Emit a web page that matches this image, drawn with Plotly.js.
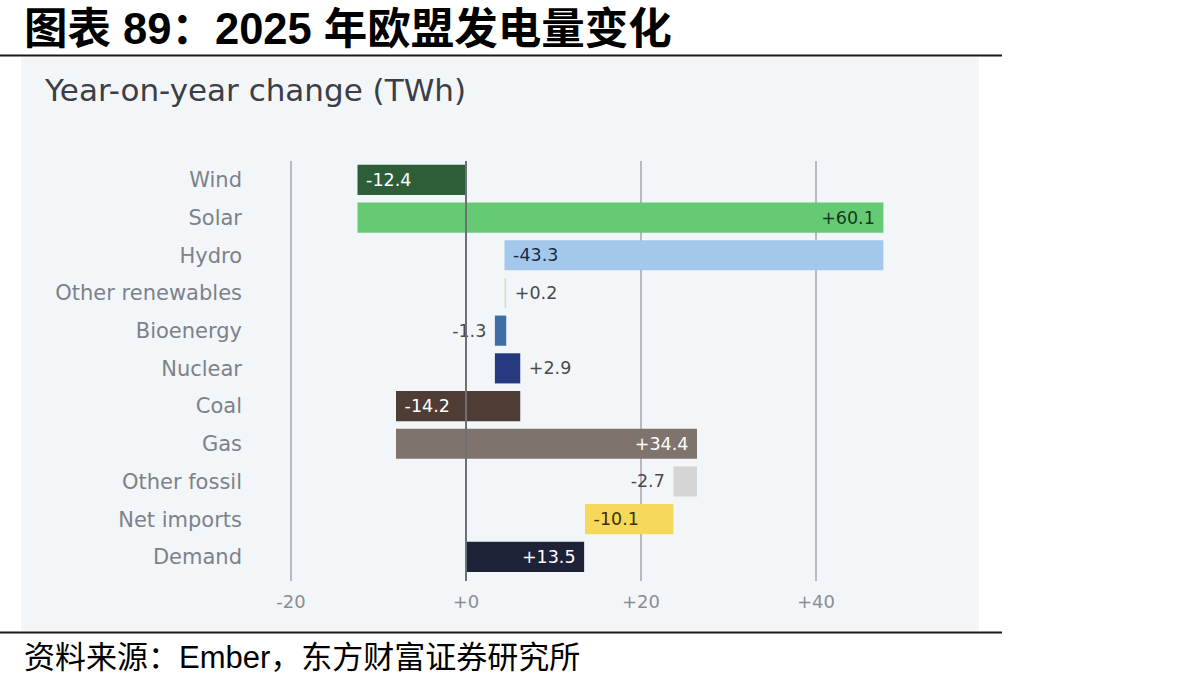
<!DOCTYPE html>
<html><head><meta charset="utf-8">
<script src="https://cdn.plot.ly/plotly-3.0.1.min.js"></script>
<style>html,body{margin:0;padding:0;background:#fff}#chart{width:1192px;height:686px}</style>
</head><body><div id="chart"></div>
<script>
// ---- data ----
const categories = ["Wind","Solar","Hydro","Other renewables","Bioenergy","Nuclear","Coal","Gas","Other fossil","Net imports","Demand"];
const changes = [-12.4, 60.1, -43.3, 0.2, -1.3, 2.9, -14.2, 34.4, -2.7, -10.1, 13.5];
const isTotal = [false,false,false,false,false,false,false,false,false,false,true];
const tickValues = [-20, 0, 20, 40];
const tickLabels = ["-20", "+0", "+20", "+40"];
const headerText = "<b>图表 89：2025 年欧盟发电量变化</b>";
const subtitleText = "Year-on-year change (TWh)";
const sourceText = "资料来源：Ember，东方财富证券研究所";

// ---- styles ----
const barColors = ["#2e5e37","#66c974","#a4c8ec","#cfe0cb","#3e6ea6","#27397f","#4e3d34","#7f736e","#d5d5d5","#f6d95b","#1d2237"];
const insideTextColors = ["#ffffff","#143a1d","#1c2a45","#333333","#ffffff","#ffffff","#ffffff","#ffffff","#333333","#3d3000","#ffffff"];

// waterfall bases from running total
const bases = [];
let running = 0;
changes.forEach((v, i) => {
  if (isTotal[i]) { bases.push(0); }
  else { bases.push(running); running += v; }
});
const NB = "\u00a0";
const labels = changes.map(v => NB + (v > 0 ? "+" : "") + v.toFixed(1) + NB);

const W = 1192, H = 686;
const M = {l: 255, r: 232, t: 161, b: 105};
const pw = W - M.l - M.r, ph = H - M.t - M.b;
const px = x => (x - M.l) / pw;
const py = y => 1 - (y - M.t) / ph;
const FONT = "DejaVu Sans, sans-serif";

const trace = {
  type: "bar", orientation: "h",
  y: categories, x: changes, base: bases,
  width: 0.8,
  marker: {color: barColors, line: {width: 0}},
  text: labels,
  textposition: "auto",
  insidetextanchor: "end",
  constraintext: "none",
  textangle: 0,
  insidetextfont: {family: FONT, size: 17.5, color: insideTextColors},
  outsidetextfont: {family: FONT, size: 17.5, color: "#4a4a4a"},
  cliponaxis: false,
  hoverinfo: "skip"
};

const layout = {
  width: W, height: H,
  margin: M,
  paper_bgcolor: "#ffffff",
  plot_bgcolor: "rgba(0,0,0,0)",
  showlegend: false,
  title: {
    text: subtitleText, xref: "container", yref: "container",
    x: 45 / W, xanchor: "left", y: 1 - 90 / H, yanchor: "middle",
    font: {family: FONT, size: 31, color: "#3b3e46"}
  },
  xaxis: {
    range: [(M.l - 466) / 8.75, (W - M.r - 466) / 8.75],
    tickmode: "array", tickvals: tickValues, ticktext: tickLabels,
    showgrid: true, gridcolor: "#b6b9be", gridwidth: 2,
    zeroline: false, showline: false, ticks: "",
    ticklabelstandoff: 8,
    tickfont: {family: FONT, size: 18, color: "#8a8d94"},
    fixedrange: true
  },
  yaxis: {
    type: "category", categoryorder: "array", categoryarray: categories,
    range: [10.64, -0.5],
    showgrid: false, zeroline: false, showline: false, ticks: "",
    ticklabelstandoff: 12,
    tickfont: {family: FONT, size: 21, color: "#7d818b"},
    fixedrange: true
  },
  shapes: [
    {type: "rect", xref: "paper", yref: "paper", x0: px(21), x1: px(979), y0: py(631), y1: py(57),
     fillcolor: "#f3f6f9", line: {width: 0}, layer: "below"},
    {type: "line", xref: "paper", yref: "paper", x0: px(0), x1: px(1002), y0: py(55.5), y1: py(55.5),
     line: {color: "#1a1a1a", width: 2}},
    {type: "line", xref: "paper", yref: "paper", x0: px(0), x1: px(1002), y0: py(632.5), y1: py(632.5),
     line: {color: "#1a1a1a", width: 2}},
    {type: "line", xref: "x", yref: "paper", x0: 0, x1: 0, y0: 0, y1: 1,
     line: {color: "#6d7077", width: 2}, layer: "above"}
  ],
  annotations: [
    {text: headerText, xref: "paper", yref: "paper", x: px(22), y: py(29),
     xanchor: "left", yanchor: "middle", showarrow: false,
     font: {family: "Liberation Sans, Noto Sans CJK SC, sans-serif", size: 43.5, color: "#000"}},
    {text: sourceText, xref: "paper", yref: "paper", x: px(22), y: py(657),
     xanchor: "left", yanchor: "middle", showarrow: false,
     font: {family: "Liberation Sans, Noto Sans CJK SC, sans-serif", size: 31, color: "#000"}}
  ]
};

Plotly.newPlot("chart", [trace], layout, {displayModeBar: false, staticPlot: true});
</script>
</body></html>
